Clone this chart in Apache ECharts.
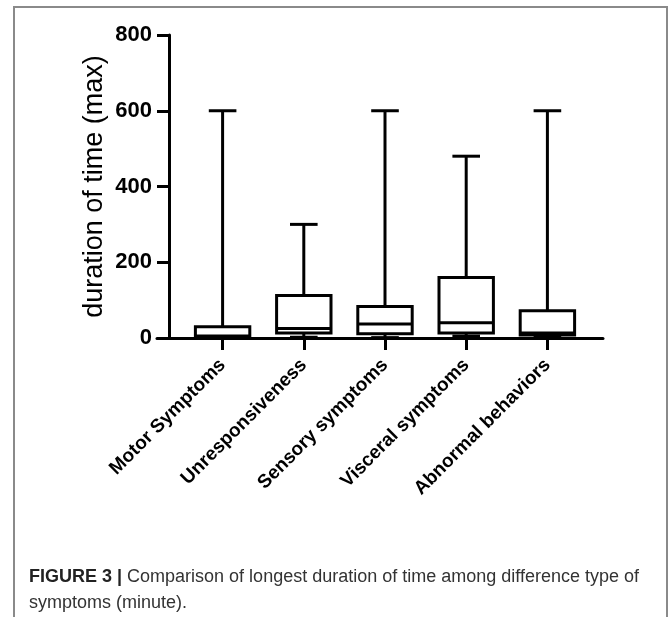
<!DOCTYPE html>
<html>
<head>
<meta charset="utf-8">
<script src="https://cdn.jsdelivr.net/npm/echarts@6/dist/echarts.min.js"></script>
<style>
  html, body { margin: 0; padding: 0; background: #fff; }
  #wrap { position: relative; width: 669px; height: 617px; overflow: hidden; }
  #frame {
    position: absolute; left: 13px; top: 6px; width: 651px; height: 640px;
    border: 2px solid #8a8a8a; border-bottom: none;
  }
  #chart { position: absolute; left: 0; top: 0; width: 669px; height: 617px; }
  #caption {
    position: absolute; left: 29px; top: 563px; width: 640px;
    font-family: "Liberation Sans", Arial, sans-serif;
    font-size: 18px; line-height: 26px; color: #333; white-space: nowrap;
  }
  #caption b { color: #222; }
</style>
</head>
<body>
<div id="wrap">
  <div id="frame"></div>
  <div id="chart"></div>
  <div id="caption"><b>FIGURE 3 |</b> Comparison of longest duration of time among difference type of<br>symptoms (minute).</div>
</div>
<script>
const categories = ['Motor Symptoms', 'Unresponsiveness', 'Sensory symptoms', 'Visceral symptoms', 'Abnormal behaviors']
const mins = [0, 2, 1, 5, 2]
const q1s = [2, 13, 11, 13, 8]
const medians = [5, 25, 37, 40, 13]
const q3s = [30, 112, 83, 160, 72]
const maxs = [600, 300, 600, 480, 600]
const yTicks = { min: 0, max: 800, interval: 200 }

const boxData = categories.map((c, i) => [i, mins[i], q1s[i], medians[i], q3s[i], maxs[i]])

const black = '#000'
const lw = 3

const chart = echarts.init(document.getElementById('chart'))

chart.setOption({
  animation: false,
  grid: [
    { left: 182, right: 81, top: 35, bottom: 279 },
    { left: 157, right: 66, top: 35, bottom: 279 }
  ],
  xAxis: [{
    type: 'category',
    gridIndex: 0,
    data: categories,
    axisLine: { show: false },
    axisTick: { show: true, alignWithLabel: true, length: 12, lineStyle: { color: black, width: lw } },
    axisLabel: {
      rotate: 45,
      margin: 24,
      interval: 0,
      color: black,
      fontFamily: 'Liberation Sans, Arial, sans-serif',
      fontWeight: 'bold',
      fontSize: 19
    }
  }, {
    // only the long base line under the boxes
    type: 'value',
    gridIndex: 1,
    min: 0,
    max: 1,
    axisLine: { show: true, onZero: false, lineStyle: { color: black, width: lw } },
    axisTick: { show: false },
    axisLabel: { show: false },
    splitLine: { show: false }
  }],
  yAxis: [{
    type: 'value',
    gridIndex: 0,
    min: yTicks.min,
    max: yTicks.max,
    interval: yTicks.interval,
    offset: 13,
    name: 'duration of time (max)',
    nameLocation: 'middle',
    nameGap: 61,
    nameMoveOverlap: false,
    nameTextStyle: { color: black, fontSize: 27, fontFamily: 'Liberation Sans, Arial, sans-serif' },
    axisLine: { show: true, lineStyle: { color: black, width: lw } },
    axisTick: { show: true, length: 12, lineStyle: { color: black, width: lw } },
    axisLabel: {
      margin: 17,
      color: black,
      fontFamily: 'Liberation Sans, Arial, sans-serif',
      fontWeight: 'bold',
      fontSize: 22
    },
    splitLine: { show: false }
  }, {
    type: 'value',
    gridIndex: 1,
    show: false
  }],
  series: [{
    type: 'custom',
    xAxisIndex: 0,
    yAxisIndex: 0,
    data: boxData,
    renderItem(params, api) {
      const x = api.value(0)
      const band = api.size([1, 0])[0]
      const half = band * 0.335
      const cap = band * 0.17
      const pMin = api.coord([x, api.value(1)])
      const pQ1 = api.coord([x, api.value(2)])
      const pMed = api.coord([x, api.value(3)])
      const pQ3 = api.coord([x, api.value(4)])
      const pMax = api.coord([x, api.value(5)])
      const cx = pMin[0]
      const stroke = { stroke: black, lineWidth: lw }
      return {
        type: 'group',
        children: [
          { type: 'line', shape: { x1: cx, y1: pMax[1], x2: cx, y2: pQ3[1] }, style: stroke },
          { type: 'line', shape: { x1: cx - cap, y1: pMax[1], x2: cx + cap, y2: pMax[1] }, style: stroke },
          { type: 'line', shape: { x1: cx, y1: pQ1[1], x2: cx, y2: pMin[1] }, style: stroke },
          { type: 'line', shape: { x1: cx - cap, y1: pMin[1], x2: cx + cap, y2: pMin[1] }, style: stroke },
          {
            type: 'rect',
            shape: { x: cx - half, y: pQ3[1], width: half * 2, height: pQ1[1] - pQ3[1] },
            style: { fill: '#fff', stroke: black, lineWidth: lw }
          },
          { type: 'line', shape: { x1: cx - half, y1: pMed[1], x2: cx + half, y2: pMed[1] }, style: stroke }
        ]
      }
    }
  }]
})
</script>
</body>
</html>
